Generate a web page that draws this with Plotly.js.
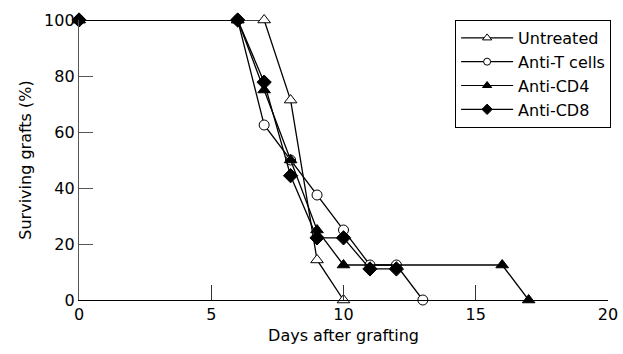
<!DOCTYPE html>
<html>
<head>
<meta charset="utf-8">
<script src="https://cdn.plot.ly/plotly-3.0.1.min.js"></script>
<style>html,body{margin:0;padding:0;background:#fff;}#chart{width:623px;height:354px;}</style>
</head>
<body>
<div id="chart"></div>
<script>
// Data
const seriesNames = ["Untreated", "Anti-T cells", "Anti-CD4", "Anti-CD8"];
const untreatedDays = [0, 6, 7, 8, 9, 10];
const untreatedPct = [100, 100, 100, 71.4, 14.3, 0];
const antiTDays = [0, 6, 7, 8, 9, 10, 11, 12, 13];
const antiTPct = [100, 100, 62.5, 50, 37.5, 25, 12.5, 12.5, 0];
const antiCD4Days = [0, 6, 7, 8, 9, 10, 16, 17];
const antiCD4Pct = [100, 100, 75, 50, 25, 12.5, 12.5, 0];
const antiCD8Days = [0, 6, 7, 8, 9, 10, 11, 12];
const antiCD8Pct = [100, 100, 77.8, 44.4, 22.2, 22.2, 11.1, 11.1];
const xTicks = [0, 5, 10, 15, 20];
const yTicks = [0, 20, 40, 60, 80, 100];

const FONT = "DejaVu Sans, Verdana, sans-serif";
const line = {color: "#000", width: 1.3};
const markers = [
  {symbol: "triangle-up", size: 11, color: "#fff"},
  {symbol: "circle", size: 10, color: "#fff"},
  {symbol: "triangle-up", size: 11, color: "#000"},
  {symbol: "diamond", size: 11, color: "#000"}
];
const xs = [untreatedDays, antiTDays, antiCD4Days, antiCD8Days];
const ys = [untreatedPct, antiTPct, antiCD4Pct, antiCD8Pct];

const traces = [];
for (let i = 0; i < 4; i++) {
  traces.push({x: xs[i], y: ys[i], name: seriesNames[i], mode: "lines+markers", line: line,
    showlegend: false, cliponaxis: false,
    marker: {symbol: markers[i].symbol, size: markers[i].size, color: markers[i].color,
             line: {color: "#000", width: 1}}});
}
// legend entries with smaller sample markers
for (let i = 0; i < 4; i++) {
  traces.push({x: [null], y: [null], name: seriesNames[i], mode: "lines+markers", line: {color: "#000", width: 1.2},
    showlegend: true,
    marker: {symbol: markers[i].symbol, size: markers[i].size - 3, color: markers[i].color,
             line: {color: "#000", width: 1}}});
}

const layout = {
  width: 623, height: 354,
  margin: {l: 79, r: 13, t: 20, b: 54},
  paper_bgcolor: "#fff", plot_bgcolor: "#fff",
  font: {family: FONT, size: 16, color: "#000"},
  showlegend: true,
  legend: {x: 0.711, y: 1, xanchor: "left", yanchor: "top",
           bgcolor: "#fff", bordercolor: "#000", borderwidth: 1,
           itemwidth: 52,
           font: {family: FONT, size: 16, color: "#000"}, tracegroupgap: 0},
  xaxis: {range: [0, 20], tickvals: xTicks, ticktext: xTicks.map(String),
          ticks: "inside", ticklen: 15, tickcolor: "#333", tickwidth: 1,
          showline: true, linecolor: "#000", linewidth: 1.2, zeroline: false, showgrid: false,
          tickfont: {family: FONT, size: 16},
          title: {text: "Days after grafting", font: {family: FONT, size: 16}, standoff: 6}},
  yaxis: {range: [0, 100], tickvals: yTicks, ticktext: yTicks.map(String),
          ticks: "inside", ticklen: 14, tickcolor: "#555", tickwidth: 1,
          showline: true, linecolor: "#555", linewidth: 1.2, zeroline: false, showgrid: false,
          tickfont: {family: FONT, size: 16},
          title: {text: "Surviving grafts (%)", font: {family: FONT, size: 16}, standoff: 8}}
};

Plotly.newPlot("chart", traces, layout, {displayModeBar: false, staticPlot: true});
</script>
</body>
</html>
